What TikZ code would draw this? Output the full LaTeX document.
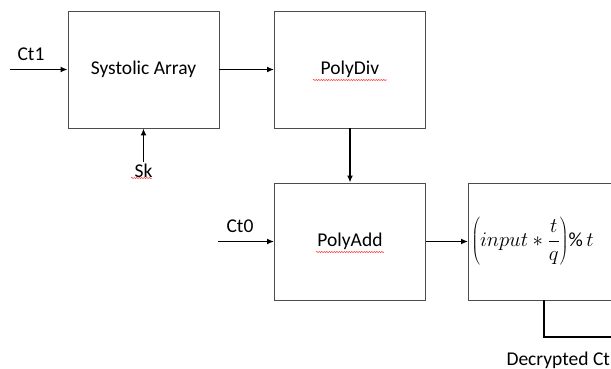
\documentclass[tikz,border=0pt]{standalone}
\usepackage{fontspec}
\setmainfont{Carlito}
\usetikzlibrary{positioning,arrows.meta,decorations.pathmorphing}

\tikzset{
  block/.style={draw=black!70, line width=0.9pt, minimum width=151pt, minimum height=117pt, inner sep=0pt},
  flow/.style={-{Latex[length=7pt,width=6pt]}, line width=1.7pt},
  squiggle/.style={red!85, line width=0.5pt, decorate, decoration={snake, amplitude=0.6pt, segment length=2.5pt}}
}

\begin{document}
\begin{tikzpicture}[x=1pt, y=-1pt, font=\fontsize{19.5}{22}\selectfont]
\useasboundingbox (0,0) rectangle (611,369);
\def\xa{143.5}
\def\xb{350}
\def\xc{544}

\def\ya{69.5}
\def\yb{241.5}

\node[block] (sa) at (\xa, \ya) {Systolic Array};
\node[block] (div) at (\xb, \ya) {PolyDiv};
\node[block] (add) at (\xb, \yb) {PolyAdd};
\node[block] (dec) at (\xc, \yb) {};
\node[anchor=west, inner sep=0pt, font=\fontsize{20}{24}\selectfont] (formula) at ([xshift=3pt]dec.west)
  {$\displaystyle\left(input * \frac{t}{q}\right)\!\%\, t$};

% inputs
\coordinate (ct1in) at (10, \ya);
\coordinate (ct0in) at (218, \yb);
\node (ct1) at (31, 54) {Ct1};
\node (ct0) at (240, 226) {Ct0};
\node[inner sep=1.5pt] (sk) at (\xa, 171) {Sk};

\draw[flow] (ct1in) -- (sa);
\draw[flow] (sk.north) -- (sa.south);
\draw[flow] (sa) -- (div);
\draw[flow] (div) -- (add);
\draw[flow] (ct0in) -- (add);
\draw[flow] (add) -- (dec);

% output
\coordinate (out) at (615, 337);
\draw[line width=1.5pt] (dec.south) |- (out);
\node[anchor=west] (res) at (503, 360) {Decrypted Ct};

% spell check marks
\draw[squiggle] (131, 178) -- (152, 178);
\draw[squiggle] (313, 80) -- (387, 80);
\draw[squiggle] (316, 252) -- (384, 252);
\end{tikzpicture}
\end{document}
